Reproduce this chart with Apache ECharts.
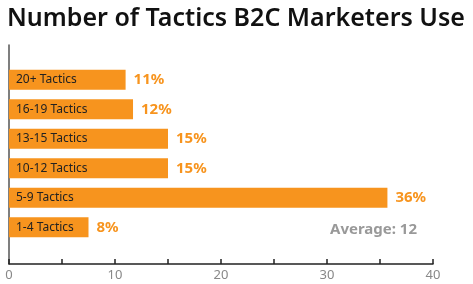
<!DOCTYPE html>
<html><head><meta charset="utf-8">
<script src="https://cdn.jsdelivr.net/npm/echarts@6/dist/echarts.min.js"></script>
<style>html,body{margin:0;padding:0;background:#fff}#c{width:473px;height:284px}</style>
</head><body><div id="c"></div>
<script>
const categories = ['20+ Tactics','16-19 Tactics','13-15 Tactics','10-12 Tactics','5-9 Tactics','1-4 Tactics'];
const values = [11, 11.7, 15, 15, 35.7, 7.5];
const valueLabels = ['11%','12%','15%','15%','36%','8%'];
const xTicks = [0, 10, 20, 30, 40];
const chart = echarts.init(document.getElementById('c'));
chart.setOption({
  animation: false,
  title: { text: 'Number of Tactics B2C Marketers Use', left: 2, top: 1,
    textStyle: { fontFamily: 'Noto Sans', fontWeight: 600, fontSize: 25, color: '#111' } },
  grid: [
    { left: 9, right: 40, top: 65, height: 177 },
    { left: 9, right: 40, top: 45, height: 219 }
  ],
  xAxis: [
    { gridIndex: 0, type: 'value', min: 0, max: 40, show: false },
    { gridIndex: 1, type: 'value', min: 0, max: 40, interval: 5,
      axisLine: { show: true, lineStyle: { color: '#222', width: 1.5 } },
      axisTick: { show: true, inside: true, length: 5, lineStyle: { color: '#222', width: 1.5 } },
      splitLine: { show: false },
      axisLabel: { color: '#888', fontFamily: 'Noto Sans', fontSize: 13, margin: 5,
        formatter: v => xTicks.includes(v) ? String(v) : '' } }
  ],
  yAxis: [
    { gridIndex: 0, type: 'category', data: categories, inverse: true,
      axisLine: { show: false }, axisTick: { show: false },
      axisLabel: { inside: true, margin: 7, color: '#222', fontFamily: 'Noto Sans', fontSize: 12 },
      z: 10 },
    { gridIndex: 1, type: 'value', min: 0, max: 1,
      axisLine: { show: true, lineStyle: { color: '#555', width: 1.5 } },
      axisTick: { show: false }, axisLabel: { show: false }, splitLine: { show: false } }
  ],
  series: [{
    type: 'bar', xAxisIndex: 0, yAxisIndex: 0, data: values, barWidth: 20,
    itemStyle: { color: '#F7941E' },
    label: { show: true, position: 'right', distance: 8,
      formatter: p => valueLabels[p.dataIndex],
      color: '#F7941E', fontFamily: 'Noto Sans', fontWeight: 700, fontSize: 15 }
  }],
  graphic: [{ type: 'text', left: 330, top: 222,
    style: { text: 'Average: 12', fill: '#999', font: '700 15px "Noto Sans"' } }]
});
</script></body></html>
